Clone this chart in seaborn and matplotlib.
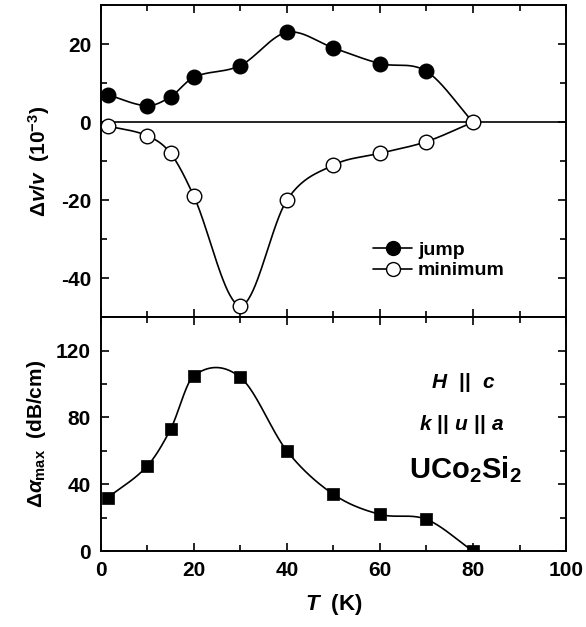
import numpy as np
import pandas as pd
import matplotlib
matplotlib.use("Agg")
import matplotlib.pyplot as plt
import seaborn as sns
from matplotlib.lines import Line2D
from matplotlib.ticker import MultipleLocator

# ---- data ----
T = [1.5, 10, 15, 20, 30, 40, 50, 60, 70, 80]
jump_T = [1.5, 10, 15, 20, 30, 40, 50, 60, 70]
jump = [7.0, 4.2, 6.5, 11.5, 14.5, 23.0, 19.0, 15.0, 13.0]
minimum = [-1.0, -3.5, -8.0, -19.0, -47.0, -20.0, -11.0, -8.0, -5.0, 0.0]
alpha_max = [32, 51, 73, 105, 104, 60, 34, 22, 19, 0]


def smooth_curve(x, y, n=40):
    """Cubic Hermite curve through the points (finite-difference slopes)."""
    x = np.asarray(x, float); y = np.asarray(y, float)
    m = np.empty_like(y)
    m[1:-1] = (y[2:] - y[:-2]) / (x[2:] - x[:-2])
    m[0] = (y[1] - y[0]) / (x[1] - x[0])
    m[-1] = (y[-1] - y[-2]) / (x[-1] - x[-2])
    xs_all, ys_all = [], []
    for i in range(len(x) - 1):
        h = x[i + 1] - x[i]
        t = np.linspace(0, 1, n, endpoint=(i == len(x) - 2))
        h00 = 2 * t**3 - 3 * t**2 + 1
        h10 = t**3 - 2 * t**2 + t
        h01 = -2 * t**3 + 3 * t**2
        h11 = t**3 - t**2
        xs_all.append(x[i] + t * h)
        ys_all.append(h00 * y[i] + h10 * h * m[i] + h01 * y[i + 1] + h11 * h * m[i + 1])
    return np.concatenate(xs_all), np.concatenate(ys_all)


sns.set_style("ticks")
plt.rcParams['font.family'] = ['Liberation Sans', 'DejaVu Sans']
plt.rcParams['font.weight'] = 'bold'
plt.rcParams['axes.labelweight'] = 'bold'
plt.rcParams['text.color'] = 'black'
plt.rcParams['axes.labelcolor'] = 'black'
plt.rcParams['xtick.color'] = 'black'
plt.rcParams['ytick.color'] = 'black'
plt.rcParams['axes.unicode_minus'] = False
plt.rcParams['mathtext.fontset'] = 'custom'
plt.rcParams['mathtext.rm'] = 'Liberation Sans:bold'
plt.rcParams['mathtext.it'] = 'Liberation Sans:bold:italic'
plt.rcParams['mathtext.bf'] = 'Liberation Sans:bold'

fig = plt.figure(figsize=(5.86, 6.27), dpi=100)
ax1 = fig.add_axes([0.172, 0.494, 0.794, 0.498])
ax2 = fig.add_axes([0.172, 0.121, 0.794, 0.373], sharex=ax1)

# top panel
jT_all = jump_T + [80]
j_all = jump + [0.0]
xs, ys = smooth_curve(jT_all, j_all)
sns.lineplot(x=xs, y=ys, ax=ax1, color='black', lw=1.2, sort=False)
xs, ys = smooth_curve(T, minimum)
sns.lineplot(x=xs, y=ys, ax=ax1, color='black', lw=1.2, sort=False)
ax1.axhline(0, color='black', lw=1.2, zorder=1)
sns.scatterplot(x=jump_T, y=jump, ax=ax1, marker='o', s=110, color='black',
                edgecolor='black', linewidth=1.0, zorder=3)
sns.scatterplot(x=T, y=minimum, ax=ax1, marker='o', s=110, color='white',
                edgecolor='black', linewidth=1.0, zorder=3)
ax1.set_ylim(-50, 30)
ax1.set_xlim(0, 100)
ax1.yaxis.set_major_locator(MultipleLocator(20))
ax1.yaxis.set_minor_locator(MultipleLocator(10))
ax1.set_ylabel(r'$\Delta\mathit{v/v}$  (10$^{-3}$)', fontsize=15, labelpad=6)
handles = [Line2D([], [], color='black', lw=1.2, marker='o', ms=10, mfc='black', mec='black'),
           Line2D([], [], color='black', lw=1.2, marker='o', ms=10, mfc='white', mec='black')]
ax1.legend(handles, ['jump', 'minimum'], loc='lower left', bbox_to_anchor=(0.565, 0.09),
           frameon=False, fontsize=14, handlelength=2.0, handletextpad=0.3,
           labelspacing=0.15, borderpad=0)
ax1.tick_params(labelbottom=False)

# bottom panel
xs, ys = smooth_curve(T, alpha_max)
sns.lineplot(x=xs, y=ys, ax=ax2, color='black', lw=1.2, sort=False)
sns.scatterplot(x=T, y=alpha_max, ax=ax2, marker='s', s=80, color='black',
                edgecolor='black', linewidth=0.5, zorder=3)
ax2.set_ylim(0, 140)
ax2.yaxis.set_major_locator(MultipleLocator(40))
ax2.yaxis.set_minor_locator(MultipleLocator(20))
ax2.xaxis.set_major_locator(MultipleLocator(20))
ax2.xaxis.set_minor_locator(MultipleLocator(10))
ax2.set_ylabel(r'$\Delta\mathit{\alpha}_{\rm max}$  (dB/cm)', fontsize=15, labelpad=6)
ax2.set_xlabel(r'$\mathit{T}$  (K)', fontsize=16, labelpad=9)
ax2.text(78, 101, r'$\mathit{H}\ \ ||\ \ \mathit{c}$', ha='center', va='center', fontsize=15)
ax2.text(77.6, 76, r'$\mathit{k}\ ||\ \mathit{u}\ ||\ \mathit{a}$', ha='center', va='center', fontsize=15)
ax2.text(78.3, 49, r'UCo$_2$Si$_2$', ha='center', va='center', fontsize=21)

for ax in (ax1, ax2):
    ax.tick_params(which='both', direction='in', top=True, right=True,
                   labelsize=15, width=1.2, pad=7)
    ax.tick_params(which='major', length=6)
    ax.tick_params(which='minor', length=4)
    for sp in ax.spines.values():
        sp.set_linewidth(1.4)
        sp.set_color('black')
    for lab in ax.get_yticklabels() + ax.get_xticklabels():
        lab.set_fontweight('bold')

fig.savefig('out.png', dpi=100)
